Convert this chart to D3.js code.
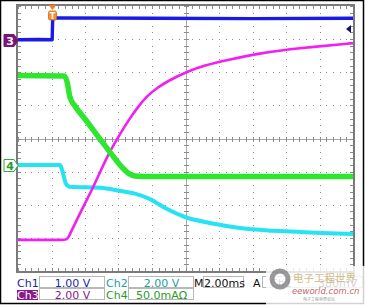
<!DOCTYPE html>
<html>
<head>
<meta charset="utf-8">
<script src="https://cdn.jsdelivr.net/npm/d3@7"></script>
<style>
  body { margin: 0; background: #fff; }
  svg { display: block; font-family: "DejaVu Sans", sans-serif; }
</style>
</head>
<body>
<div id="scope"></div>
<script>
/*************** SCOPE DATA ***************/
// time in ms (2 ms/div), level in divisions from screen centre
const ch1 = [[0, 2.98], [1.2, 2.99], [2.04, 2.98], [2.07, 3.6], [2.3, 3.64], [8, 3.63], [14, 3.62], [20, 3.63]];
const ch2 = [[0, 1.9], [2.75, 1.89], [2.93, 1.71], [3.1, 1.25], [3.4, 0.98], [4.0, 0.59], [4.9, -0.02],
             [5.49, -0.41], [6.09, -0.8], [6.57, -1.04], [6.99, -1.13], [8, -1.15], [20, -1.15]];
const ch3 = [[0, -3.06], [2.9, -3.06], [2.95, -3.06], [3.6, -2.35], [4.42, -1.55], [4.9, -1.01], [5.49, -0.38],
             [6.09, 0.14], [6.69, 0.62], [7.2, 0.98], [7.7, 1.28], [8.3, 1.53], [9.0, 1.75], [10.09, 2.02],
             [11.2, 2.22], [12.48, 2.37], [14.45, 2.58], [16.84, 2.73], [20, 2.88]];
const ch4 = [[0, -0.8], [2.51, -0.8], [2.63, -0.95], [2.87, -1.37], [3.1, -1.46], [4.9, -1.49], [6.09, -1.58],
             [6.87, -1.65], [7.88, -1.83], [8.9, -2.13], [9.97, -2.37], [11.46, -2.55], [13.25, -2.7], [16.84, -2.82], [20, -2.88]];

const chNames = ["Ch1", "Ch2", "Ch3", "Ch4"];
const chScales = ["1.00 V", "2.00 V", "2.00 V", "50.0mA\u03A9"];
const timebase = "2.00ms";
const trigLevel = "380mV";
const trigTime = 2.0;        // ms
const ch1RefLevel = 2.98;    // marker "3"
const ch4RefLevel = -0.8;    // marker "4"
const trigArrowLevel = 3.3;  // right side arrow

/*************** LAYOUT ***************/
const W = 365, H = 305;
const x0 = 18, x1 = 353, y0 = 6, y1 = 271;

const svg = d3.select("#scope").append("svg")
    .attr("width", W).attr("height", H);

svg.append("rect").attr("width", W).attr("height", H).attr("fill", "#fff");

const x = d3.scaleLinear().domain([0, 20]).range([x0, x1]);
const y = d3.scaleLinear().domain([-4, 4]).range([y1, y0]);

const grid = svg.append("g");
const gridCol = "#8c8c8c";

// dotted division lines
const minorX = d3.range(0, 20.001, 0.4);
const minorY = d3.range(-4, 4.001, 0.2);
d3.range(2, 20, 2).filter(d => d !== 10).forEach(t => {
  grid.selectAll(null).data(minorY).join("rect")
    .attr("x", Math.round(x(t))).attr("y", d => Math.round(y(d)))
    .attr("width", 1).attr("height", 1).attr("fill", gridCol);
});
d3.range(-3, 4, 1).filter(d => d !== 0).forEach(v => {
  grid.selectAll(null).data(minorX).join("rect")
    .attr("x", d => Math.round(x(d))).attr("y", Math.round(y(v)))
    .attr("width", 1).attr("height", 1).attr("fill", gridCol);
});

// centre crosshair with ticks
grid.append("line").attr("x1", x0).attr("x2", x1).attr("y1", Math.round(y(0)) + 0.5).attr("y2", Math.round(y(0)) + 0.5)
    .attr("stroke", "#a8a8a8");
grid.append("line").attr("y1", y0).attr("y2", y1).attr("x1", Math.round(x(10)) + 0.5).attr("x2", Math.round(x(10)) + 0.5)
    .attr("stroke", "#a8a8a8");
grid.selectAll(null).data(minorX).join("line")
    .attr("x1", d => Math.round(x(d)) + 0.5).attr("x2", d => Math.round(x(d)) + 0.5)
    .attr("y1", Math.round(y(0)) - 2).attr("y2", Math.round(y(0)) + 3)
    .attr("stroke", gridCol);
grid.selectAll(null).data(minorY).join("line")
    .attr("y1", d => Math.round(y(d)) + 0.5).attr("y2", d => Math.round(y(d)) + 0.5)
    .attr("x1", Math.round(x(10)) - 2).attr("x2", Math.round(x(10)) + 3)
    .attr("stroke", gridCol);

// border ticks
grid.selectAll(null).data(minorX).join("line")
    .attr("x1", d => Math.round(x(d)) + 0.5).attr("x2", d => Math.round(x(d)) + 0.5)
    .attr("y1", y0).attr("y2", y0 + 3).attr("stroke", gridCol);
grid.selectAll(null).data(minorX).join("line")
    .attr("x1", d => Math.round(x(d)) + 0.5).attr("x2", d => Math.round(x(d)) + 0.5)
    .attr("y1", y1 - 3).attr("y2", y1).attr("stroke", gridCol);
grid.selectAll(null).data(minorY).join("line")
    .attr("y1", d => Math.round(y(d)) + 0.5).attr("y2", d => Math.round(y(d)) + 0.5)
    .attr("x1", x0).attr("x2", x0 + 3).attr("stroke", gridCol);
grid.selectAll(null).data(minorY).join("line")
    .attr("y1", d => Math.round(y(d)) + 0.5).attr("y2", d => Math.round(y(d)) + 0.5)
    .attr("x1", x1 - 3).attr("x2", x1).attr("stroke", gridCol);

grid.append("rect").attr("x", x0 - 1).attr("y", y0 - 1).attr("width", x1 - x0 + 2).attr("height", y1 - y0 + 2)
    .attr("fill", "none").attr("stroke", "#7a7a7a").attr("stroke-width", 2);

/*************** TRACES ***************/
const traces = [
  { data: ch4, color: "#26e2f2", w: 4, curve: d3.curveMonotoneX },
  { data: ch3, color: "#f21ef2", w: 2.6, curve: d3.curveBasis },
  { data: ch2, color: "#2ee62e", w: 5.5, curve: d3.curveMonotoneX },
  { data: ch1, color: "#1a1ae8", w: 3.4, curve: d3.curveLinear }
];

svg.append("g").selectAll("path").data(traces).join("path")
    .attr("d", d => d3.line().x(p => x(p[0])).y(p => y(p[1])).curve(d.curve)(d.data))
    .attr("fill", "none")
    .attr("stroke", d => d.color)
    .attr("stroke-width", d => d.w)
    .attr("stroke-linejoin", "round");

/*************** MARKERS ***************/
// trigger position
const tx = Math.round(x(trigTime)) + 0.5;
svg.append("path").attr("d", `M${tx - 4},${y0 - 1}L${tx + 4},${y0 - 1}L${tx},${y0 + 4}Z`).attr("fill", "#f08020");
svg.append("rect").attr("x", tx - 4).attr("y", 11).attr("width", 8).attr("height", 9).attr("rx", 1.5)
    .attr("fill", "#f59030").attr("stroke", "#d86a10").attr("stroke-width", 0.8);
svg.append("text").attr("x", tx).attr("y", 18.5).attr("text-anchor", "middle")
    .attr("font-size", 8).attr("font-weight", "bold").attr("fill", "#fff").text("T");

// trigger level arrow on the right
const ay = Math.round(y(trigArrowLevel));
svg.append("path").attr("d", `M${x1 - 7},${ay}L${x1 - 2},${ay - 4}L${x1 - 2},${ay + 4}Z`).attr("fill", "#101070");

// channel reference markers
function refMarker(level, label, fill, stroke, textCol) {
  const cy = Math.round(y(level)) + 0.5;
  svg.append("path")
      .attr("d", `M4,${cy - 6}L14,${cy - 6}L18,${cy}L14,${cy + 6}L4,${cy + 6}Z`)
      .attr("fill", fill).attr("stroke", stroke).attr("stroke-width", 1);
  svg.append("text").attr("x", 10).attr("y", cy + 4.5).attr("text-anchor", "middle")
      .attr("font-size", 11).attr("font-weight", "bold").attr("fill", textCol).text(label);
}
refMarker(ch1RefLevel, "3", "#7a1478", "#7a1478", "#fff");
refMarker(ch4RefLevel, "4", "#fff", "#3aa83a", "#2a9a2a");

/*************** READOUT ***************/
const ro = svg.append("g").attr("font-size", 11);
const rows = [280, 292];
const cols = [
  { lx: 17, bx: 39, bw: 65 },
  { lx: 106, bx: 128, bw: 65 }
];
const chCols = ["#1a2aa0", "#20a0a0", "#8a1a8a", "#2a9a2a"];
chNames.forEach((name, i) => {
  const c = cols[i % 2], ry = rows[Math.floor(i / 2)];
  ro.append("rect").attr("x", c.bx + 0.5).attr("y", ry - 3.5).attr("width", c.bw).attr("height", 11)
      .attr("fill", "#fff").attr("stroke", "#b8b8b8");
  if (name === "Ch3") {
    ro.append("rect").attr("x", c.lx).attr("y", ry - 2).attr("width", 21).attr("height", 10).attr("fill", "#8a1a8a");
  }
  ro.append("text").attr("x", c.lx).attr("y", ry + 6.5)
      .attr("fill", name === "Ch3" ? "#fff" : chCols[i]).text(name);
  ro.append("text").attr("x", c.bx + c.bw / 2 + 1).attr("y", ry + 6.5).attr("text-anchor", "middle")
      .attr("fill", chCols[i]).text(chScales[i]);
});
ro.append("text").attr("x", 194).attr("y", rows[0] + 6.5).attr("fill", "#111").text("M");
ro.append("rect").attr("x", 203.5).attr("y", rows[0] - 3.5).attr("width", 40).attr("height", 11)
    .attr("fill", "#fff").attr("stroke", "#b8b8b8");
ro.append("text").attr("x", 204).attr("y", rows[0] + 6.5).attr("fill", "#111").text(timebase);
ro.append("text").attr("x", 253).attr("y", rows[0] + 6.5).attr("fill", "#111").text("A");
ro.append("rect").attr("x", 262.5).attr("y", rows[0] - 3.5).attr("width", 100).attr("height", 11)
    .attr("fill", "#fff").attr("stroke", "#b8b8b8");
ro.append("text").attr("x", 270).attr("y", rows[0] + 6.5).attr("fill", chCols[0]).text(chNames[0]);
ro.append("text").attr("x", 318).attr("y", rows[0] + 6.5).attr("fill", "#111").text(trigLevel);

// outer frame
svg.append("rect").attr("x", 0.5).attr("y", 0.5).attr("width", W - 2).attr("height", H - 2)
    .attr("fill", "none").attr("stroke", "#000").attr("stroke-width", 1.5);

/*************** WATERMARK ***************/
const wm = svg.append("g");
wm.append("rect").attr("x", 266).attr("y", 266).attr("width", W - 266).attr("height", H - 266)
    .attr("fill", "#fff").attr("opacity", 0.82);
wm.append("circle").attr("cx", 280).attr("cy", 279).attr("r", 8)
    .attr("fill", "none").attr("stroke", "#777").attr("stroke-width", 5).attr("opacity", 0.75);
wm.append("text").attr("x", 293).attr("y", 282).attr("font-family", "Noto Sans CJK SC")
    .attr("font-size", 10.5).attr("fill", "#c8b070").attr("opacity", 0.85).text("电子工程世界");
wm.append("text").attr("x", 292).attr("y", 294).attr("font-size", 8.5).attr("font-style", "italic")
    .attr("fill", "#b03030").attr("opacity", 0.75).text("eeworld.com.cn");
wm.append("text").attr("x", 303).attr("y", 301).attr("font-family", "Noto Sans CJK SC")
    .attr("font-size", 4).attr("fill", "#999").text("电子工程世界论坛");
</script>
</body>
</html>
